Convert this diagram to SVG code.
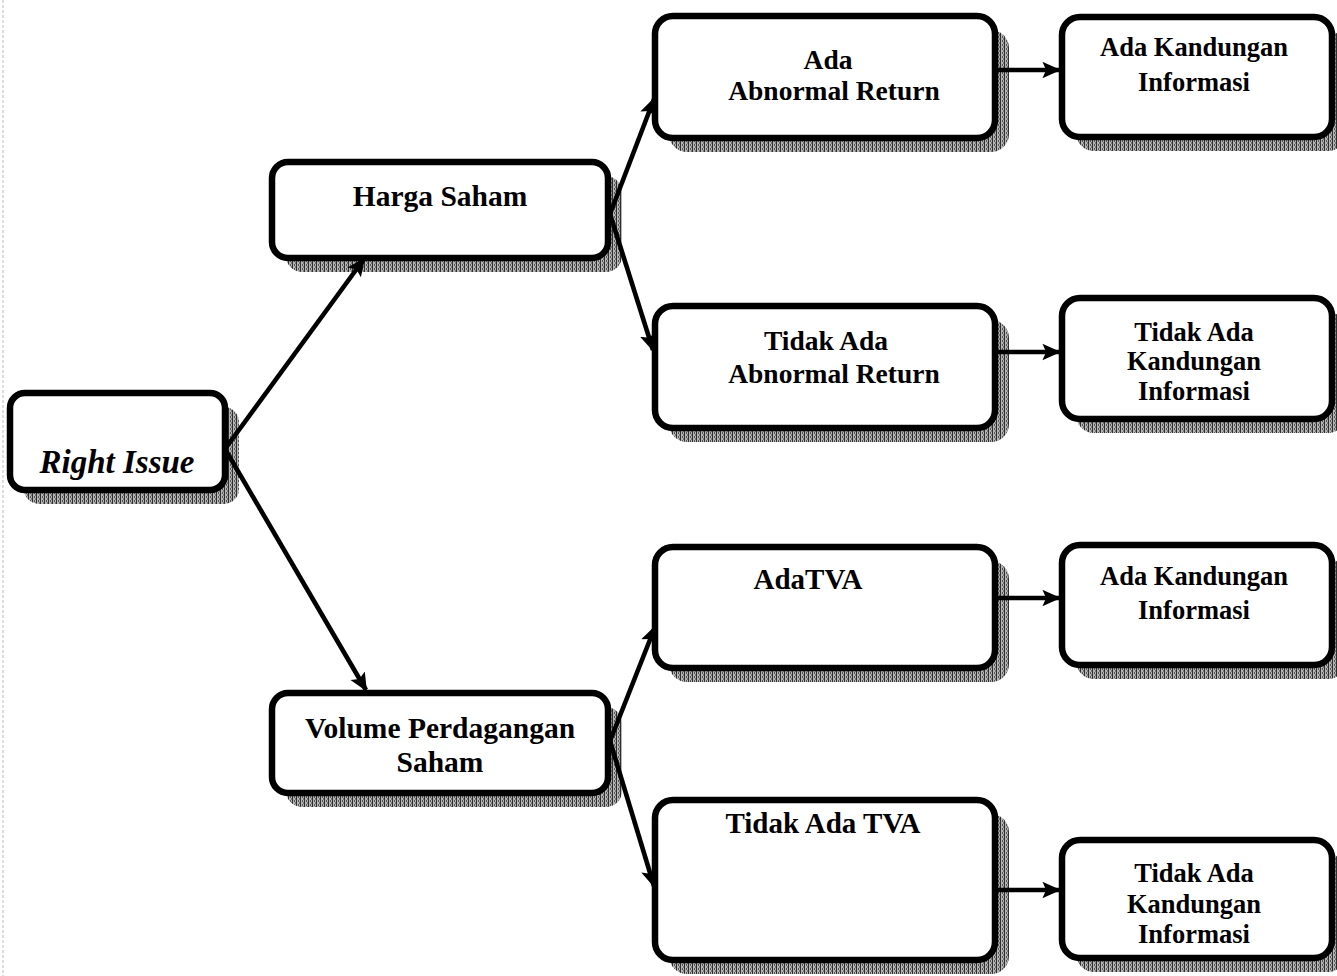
<svg xmlns="http://www.w3.org/2000/svg" width="1337" height="976" viewBox="0 0 1337 976">
<defs>
<pattern id="hatch" width="4" height="4" patternUnits="userSpaceOnUse">
<rect width="4" height="4" fill="#b4b4b4"/>
<rect x="0" y="0" width="1" height="4" fill="#2e2e2e"/>
<rect x="2" y="0" width="1" height="2" fill="#555"/>
<rect x="3" y="2" width="1" height="2" fill="#777"/>
</pattern>
<marker id="ah" viewBox="0 0 10 10" refX="9" refY="5" markerWidth="4" markerHeight="4" orient="auto" markerUnits="strokeWidth">
<path d="M0,0.5 L10,5 L0,9.5 L2,5 Z" fill="#000"/>
</marker>
</defs>
<style>
.shadow{fill:url(#hatch);stroke:none}
.box{fill:#fff;stroke:#000;stroke-width:6.5}
.t{font-family:"Liberation Serif","Times New Roman",serif;font-weight:bold;fill:#000;text-anchor:middle}
.c{stroke:#000;stroke-width:4.6;fill:none;marker-end:url(#ah)}
</style>
<rect width="1337" height="976" fill="#fff"/>
<line x1="3" y1="0" x2="3" y2="976" stroke="#bbb" stroke-width="1" stroke-dasharray="3 2"/>

<g id="right-issue">
<rect class="shadow" x="24" y="407" width="215" height="97" rx="15"/>
<rect class="box" x="10" y="393" width="215" height="97" rx="15"/>
<text class="t" x="117" y="473" font-size="33" font-style="italic">Right Issue</text>
</g>

<g id="harga-saham">
<rect class="shadow" x="286" y="176" width="336" height="96" rx="16"/>
<rect class="box" x="272" y="162" width="336" height="96" rx="16"/>
<text class="t" x="440" y="206" font-size="29.5">Harga Saham</text>
</g>

<g id="volume">
<rect class="shadow" x="286" y="707" width="336" height="100" rx="16"/>
<rect class="box" x="272" y="693" width="336" height="100" rx="16"/>
<text class="t" x="440" y="738" font-size="29.5">Volume Perdagangan</text>
<text class="t" x="440" y="772" font-size="29.5">Saham</text>
</g>

<g id="ada-ar">
<rect class="shadow" x="669" y="30" width="340" height="122" rx="18"/>
<rect class="box" x="655" y="16" width="340" height="122" rx="18"/>
<text class="t" x="828" y="69" font-size="27.5">Ada</text>
<text class="t" x="834" y="100" font-size="27.5">Abnormal Return</text>
</g>

<g id="tidak-ada-ar">
<rect class="shadow" x="669" y="320" width="340" height="122" rx="18"/>
<rect class="box" x="655" y="306" width="340" height="122" rx="18"/>
<text class="t" x="826" y="350" font-size="27.5">Tidak Ada</text>
<text class="t" x="834" y="383" font-size="27.5">Abnormal Return</text>
</g>

<g id="ada-tva">
<rect class="shadow" x="669" y="561" width="340" height="121" rx="18"/>
<rect class="box" x="655" y="547" width="340" height="121" rx="18"/>
<text class="t" x="808" y="589" font-size="29">AdaTVA</text>
</g>

<g id="tidak-ada-tva">
<rect class="shadow" x="669" y="814" width="340" height="160" rx="18"/>
<rect class="box" x="655" y="800" width="340" height="160" rx="18"/>
<text class="t" x="823" y="833" font-size="29">Tidak Ada TVA</text>
</g>

<g id="info-1">
<rect class="shadow" x="1076" y="31" width="270" height="120" rx="18"/>
<rect class="box" x="1062" y="17" width="270" height="120" rx="18"/>
<text class="t" x="1194" y="56" font-size="26.5">Ada Kandungan</text>
<text class="t" x="1194" y="91" font-size="26.5">Informasi</text>
</g>

<g id="info-2">
<rect class="shadow" x="1076" y="312" width="270" height="121" rx="18"/>
<rect class="box" x="1062" y="298" width="270" height="121" rx="18"/>
<text class="t" x="1194" y="341" font-size="26.5">Tidak Ada</text>
<text class="t" x="1194" y="370" font-size="26.5">Kandungan</text>
<text class="t" x="1194" y="400" font-size="26.5">Informasi</text>
</g>

<g id="info-3">
<rect class="shadow" x="1076" y="559" width="270" height="120" rx="18"/>
<rect class="box" x="1062" y="545" width="270" height="120" rx="18"/>
<text class="t" x="1194" y="585" font-size="26.5">Ada Kandungan</text>
<text class="t" x="1194" y="619" font-size="26.5">Informasi</text>
</g>

<g id="info-4">
<rect class="shadow" x="1076" y="854" width="270" height="118" rx="18"/>
<rect class="box" x="1062" y="840" width="270" height="118" rx="18"/>
<text class="t" x="1194" y="882" font-size="26.5">Tidak Ada</text>
<text class="t" x="1194" y="913" font-size="26.5">Kandungan</text>
<text class="t" x="1194" y="943" font-size="26.5">Informasi</text>
</g>

<g id="connectors">
<line class="c" x1="225" y1="449" x2="364" y2="259"/>
<line class="c" x1="225" y1="449" x2="366" y2="690"/>
<line class="c" x1="610" y1="214" x2="654" y2="99"/>
<line class="c" x1="610" y1="214" x2="653" y2="350"/>
<line class="c" x1="610" y1="741" x2="655" y2="627"/>
<line class="c" x1="610" y1="741" x2="654" y2="886"/>
<line class="c" x1="998" y1="70" x2="1059" y2="70"/>
<line class="c" x1="998" y1="352" x2="1059" y2="352"/>
<line class="c" x1="998" y1="598" x2="1059" y2="598"/>
<line class="c" x1="998" y1="890" x2="1059" y2="890"/>
</g>
</svg>
